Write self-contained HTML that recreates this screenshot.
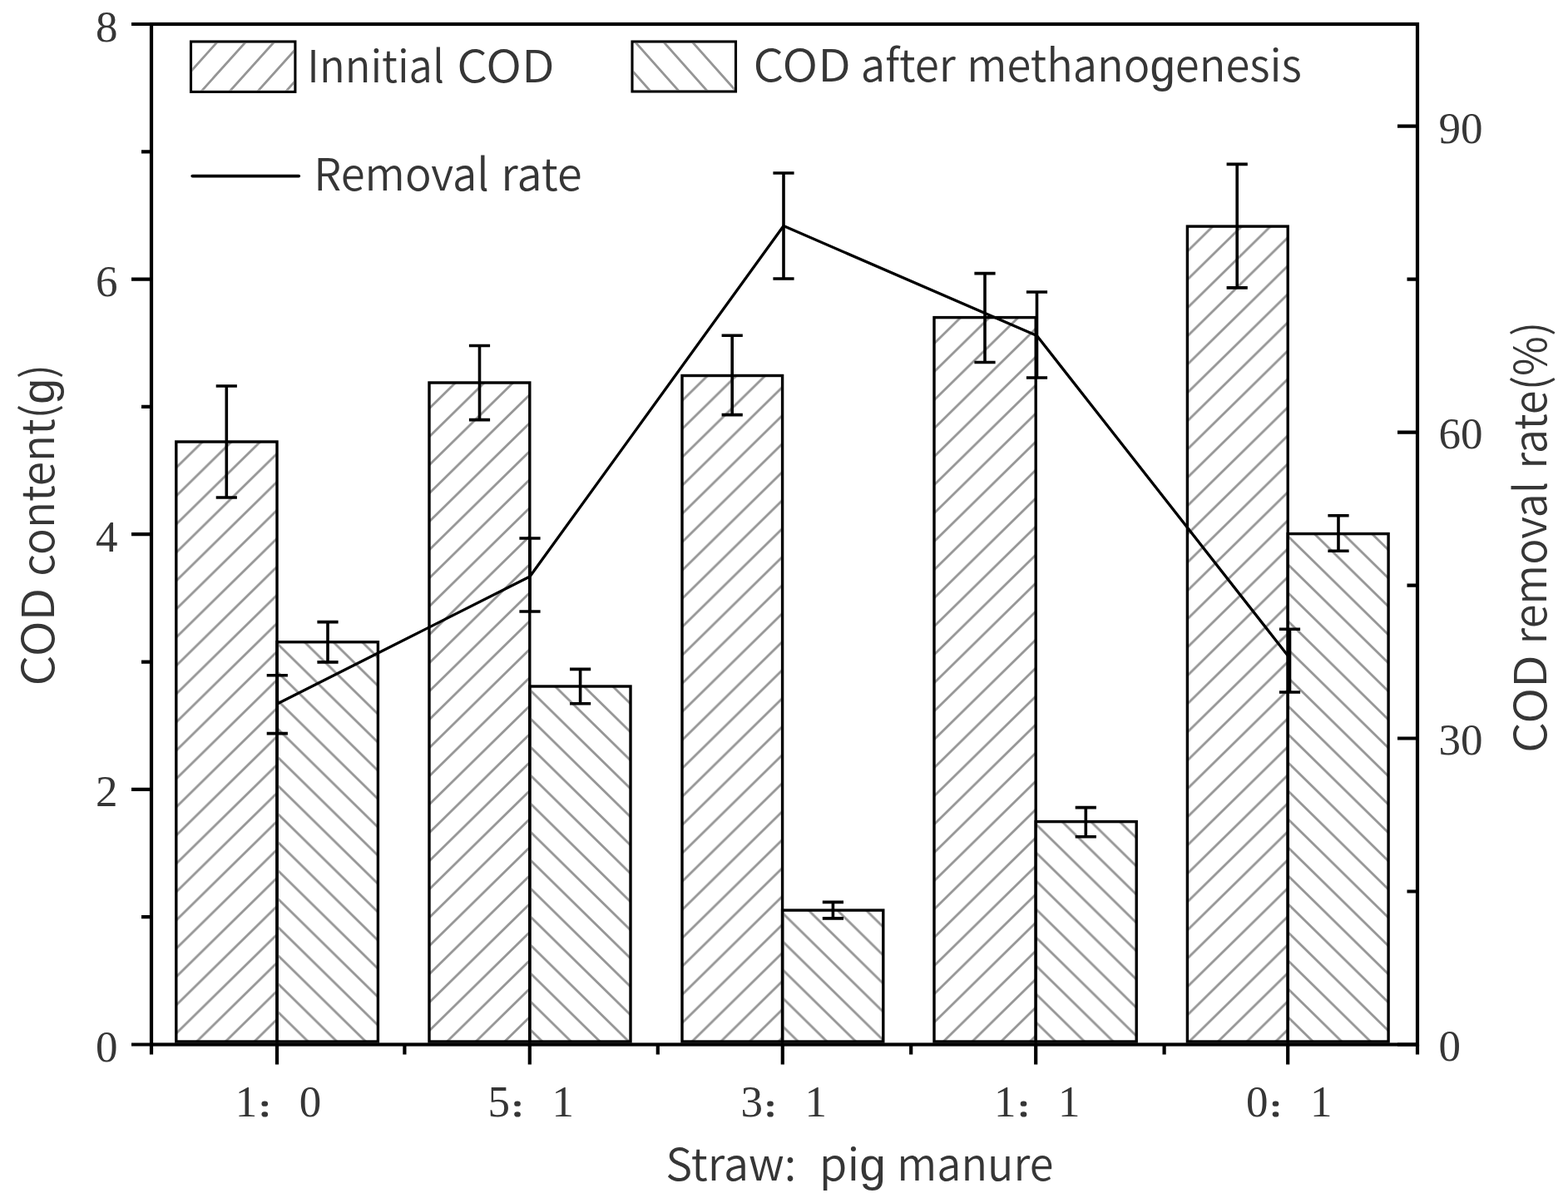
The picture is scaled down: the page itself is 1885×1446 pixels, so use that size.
<!DOCTYPE html>
<html><head><meta charset="utf-8"><title>COD content and removal rate</title><style>
html,body{margin:0;padding:0;background:#fff;}
svg{display:block;}
.sans{font-family:'Noto Sans CJK SC', 'Liberation Sans', sans-serif;fill:#363636;font-weight:350;}
.serif{font-family:'Liberation Serif', 'Noto Serif CJK SC', serif;fill:#363636;}
</style></head><body>
<svg width="1885" height="1446" viewBox="0 0 1885 1446">
<defs>
<pattern id="hi0" patternUnits="userSpaceOnUse" width="34.65" height="34.0" x="213.80" y="1138.20"><path d="M-17.325,17.0 L17.325,-17.0 M0,34.0 L34.65,0 M17.325,51.0 L51.974999999999994,17.0" stroke="#959595" stroke-width="2.8" fill="none"/></pattern>
<pattern id="ha0" patternUnits="userSpaceOnUse" width="34.65" height="34.0" x="335.00" y="1115.25"><path d="M-17.325,17.0 L17.325,51.0 M0,0 L34.65,34.0 M17.325,-17.0 L51.974999999999994,17.0" stroke="#959595" stroke-width="2.8" fill="none"/></pattern>
<pattern id="hi1" patternUnits="userSpaceOnUse" width="34.65" height="34.0" x="518.00" y="1135.00"><path d="M-17.325,17.0 L17.325,-17.0 M0,34.0 L34.65,0 M17.325,51.0 L51.974999999999994,17.0" stroke="#959595" stroke-width="2.8" fill="none"/></pattern>
<pattern id="ha1" patternUnits="userSpaceOnUse" width="34.65" height="34.0" x="638.80" y="1103.00"><path d="M-17.325,17.0 L17.325,51.0 M0,0 L34.65,34.0 M17.325,-17.0 L51.974999999999994,17.0" stroke="#959595" stroke-width="2.8" fill="none"/></pattern>
<pattern id="hi2" patternUnits="userSpaceOnUse" width="34.65" height="34.0" x="822.00" y="1125.65"><path d="M-17.325,17.0 L17.325,-17.0 M0,34.0 L34.65,0 M17.325,51.0 L51.974999999999994,17.0" stroke="#959595" stroke-width="2.8" fill="none"/></pattern>
<pattern id="ha2" patternUnits="userSpaceOnUse" width="34.65" height="34.0" x="942.60" y="1099.30"><path d="M-17.325,17.0 L17.325,51.0 M0,0 L34.65,34.0 M17.325,-17.0 L51.974999999999994,17.0" stroke="#959595" stroke-width="2.8" fill="none"/></pattern>
<pattern id="hi3" patternUnits="userSpaceOnUse" width="34.65" height="34.0" x="1125.00" y="1124.90"><path d="M-17.325,17.0 L17.325,-17.0 M0,34.0 L34.65,0 M17.325,51.0 L51.974999999999994,17.0" stroke="#959595" stroke-width="2.8" fill="none"/></pattern>
<pattern id="ha3" patternUnits="userSpaceOnUse" width="34.65" height="34.0" x="1247.20" y="1128.50"><path d="M-17.325,17.0 L17.325,51.0 M0,0 L34.65,34.0 M17.325,-17.0 L51.974999999999994,17.0" stroke="#959595" stroke-width="2.8" fill="none"/></pattern>
<pattern id="hi4" patternUnits="userSpaceOnUse" width="34.65" height="34.0" x="1429.40" y="946.20"><path d="M-17.325,17.0 L17.325,-17.0 M0,34.0 L34.65,0 M17.325,51.0 L51.974999999999994,17.0" stroke="#959595" stroke-width="2.8" fill="none"/></pattern>
<pattern id="ha4" patternUnits="userSpaceOnUse" width="34.65" height="34.0" x="1665.00" y="962.95"><path d="M-17.325,17.0 L17.325,51.0 M0,0 L34.65,34.0 M17.325,-17.0 L51.974999999999994,17.0" stroke="#959595" stroke-width="2.8" fill="none"/></pattern>
<clipPath id="lg1"><rect x="231.3" y="51.8" width="121.8" height="56.8"/></clipPath>
<clipPath id="lg2"><rect x="761.8" y="51.8" width="120.9" height="56.4"/></clipPath>
</defs>
<g>
<rect width="1885" height="1446" fill="#fff"/>
<rect x="211.8" y="531" width="121.2" height="721.0" fill="url(#hi0)" stroke="#000" stroke-width="3.4"/>
<rect x="516.0" y="460" width="120.8" height="792.0" fill="url(#hi1)" stroke="#000" stroke-width="3.4"/>
<rect x="820.0" y="451.5" width="120.6" height="800.5" fill="url(#hi2)" stroke="#000" stroke-width="3.4"/>
<rect x="1123.0" y="381.6" width="122.2" height="870.4" fill="url(#hi3)" stroke="#000" stroke-width="3.4"/>
<rect x="1427.4" y="272.1" width="120.8" height="979.9" fill="url(#hi4)" stroke="#000" stroke-width="3.4"/>
<rect x="333.0" y="771.7" width="121.4" height="480.3" fill="url(#ha0)" stroke="#000" stroke-width="3.4"/>
<rect x="636.8" y="825" width="121.2" height="427.0" fill="url(#ha1)" stroke="#000" stroke-width="3.4"/>
<rect x="940.6" y="1094.1" width="121.2" height="157.9" fill="url(#ha2)" stroke="#000" stroke-width="3.4"/>
<rect x="1245.2" y="987.6" width="121.0" height="264.4" fill="url(#ha3)" stroke="#000" stroke-width="3.4"/>
<rect x="1548.2" y="641.6" width="120.9" height="610.4" fill="url(#ha4)" stroke="#000" stroke-width="3.4"/>
<path d="M272.3,464 V598 M259.7,464 H284.9 M259.7,598 H284.9" stroke="#000" stroke-width="3.6" fill="none"/>
<path d="M576.5,415.5 V504.6 M563.9,415.5 H589.1 M563.9,504.6 H589.1" stroke="#000" stroke-width="3.6" fill="none"/>
<path d="M880.2,403.3 V498.6 M867.6,403.3 H892.8 M867.6,498.6 H892.8" stroke="#000" stroke-width="3.6" fill="none"/>
<path d="M1184.0,328.6 V435.5 M1171.4,328.6 H1196.6 M1171.4,435.5 H1196.6" stroke="#000" stroke-width="3.6" fill="none"/>
<path d="M1487.2,197.4 V345.9 M1474.6,197.4 H1499.8 M1474.6,345.9 H1499.8" stroke="#000" stroke-width="3.6" fill="none"/>
<path d="M394.0,747.6 V795.9 M381.4,747.6 H406.6 M381.4,795.9 H406.6" stroke="#000" stroke-width="3.6" fill="none"/>
<path d="M697.6,804.4 V845.7 M685.0,804.4 H710.2 M685.0,845.7 H710.2" stroke="#000" stroke-width="3.6" fill="none"/>
<path d="M1001.4,1084.4 V1103.9 M988.8,1084.4 H1014.0 M988.8,1103.9 H1014.0" stroke="#000" stroke-width="3.6" fill="none"/>
<path d="M1305.3,970.6 V1005.8 M1292.7,970.6 H1317.9 M1292.7,1005.8 H1317.9" stroke="#000" stroke-width="3.6" fill="none"/>
<path d="M1609.0,619.7 V662.3 M1596.4,619.7 H1621.6 M1596.4,662.3 H1621.6" stroke="#000" stroke-width="3.6" fill="none"/>
<path d="M333.3,846 L637.0,693 L942.0,271.5 L1246.5,403.5 L1550.5,791" stroke="#000" stroke-width="3.3" fill="none" stroke-linejoin="round"/>
<path d="M333.3,811.8 V881.6 M320.7,811.8 H345.9 M320.7,881.6 H345.9" stroke="#000" stroke-width="3.6" fill="none"/>
<path d="M637.0,647 V735 M624.4,647 H649.6 M624.4,735 H649.6" stroke="#000" stroke-width="3.6" fill="none"/>
<path d="M942.0,208 V335 M929.4,208 H954.6 M929.4,335 H954.6" stroke="#000" stroke-width="3.6" fill="none"/>
<path d="M1246.5,351 V454 M1233.9,351 H1259.1 M1233.9,454 H1259.1" stroke="#000" stroke-width="3.6" fill="none"/>
<path d="M1550.5,756.3 V832 M1537.9,756.3 H1563.1 M1537.9,832 H1563.1" stroke="#000" stroke-width="3.6" fill="none"/>
<rect x="182" y="29" width="1522" height="1226.5" fill="none" stroke="#000" stroke-width="4.2"/>
<path d="M158,1255.5 H182 M170,1102.2 H182 M158,948.9 H182 M170,795.6 H182 M158,642.2 H182 M170,488.9 H182 M158,335.6 H182 M170,182.3 H182 M158,29.0 H182 M1680,1255.5 H1704 M1691.5,1071.5 H1704 M1680,887.5 H1704 M1691.5,703.6 H1704 M1680,519.6 H1704 M1691.5,335.6 H1704 M1680,151.7 H1704 M333.0,1255.5 V1279.5 M636.8,1255.5 V1279.5 M940.8,1255.5 V1279.5 M1245.2,1255.5 V1279.5 M1548.2,1255.5 V1279.5 M182.0,1255.5 V1267.5 M486.4,1255.5 V1267.5 M790.8,1255.5 V1267.5 M1095.2,1255.5 V1267.5 M1399.6,1255.5 V1267.5 M1704.0,1255.5 V1267.5" stroke="#000" stroke-width="4.2" fill="none"/>
<text class="serif" x="141.5" y="1276.0" font-size="53" text-anchor="end">0</text>
<text class="serif" x="141.5" y="969.4" font-size="53" text-anchor="end">2</text>
<text class="serif" x="141.5" y="662.8" font-size="53" text-anchor="end">4</text>
<text class="serif" x="141.5" y="356.1" font-size="53" text-anchor="end">6</text>
<text class="serif" x="141.5" y="49.5" font-size="53" text-anchor="end">8</text>
<text class="serif" x="1729.5" y="1275.3" font-size="53">0</text>
<text class="serif" x="1729.5" y="907.3" font-size="53">30</text>
<text class="serif" x="1729.5" y="539.4" font-size="53">60</text>
<text class="serif" x="1729.5" y="171.5" font-size="53">90</text>
<text class="serif" x="296.0" y="1342" font-size="53" text-anchor="middle">1</text>
<text font-family="'Noto Sans CJK SC', sans-serif" font-weight="bold" font-size="53" fill="#363636" stroke="#363636" stroke-width="3.4" transform="translate(310.8,1341.1) scale(0.5676,0.478)">：</text>
<text class="serif" x="373.0" y="1342" font-size="53" text-anchor="middle">0</text>
<text class="serif" x="599.8" y="1342" font-size="53" text-anchor="middle">5</text>
<text font-family="'Noto Sans CJK SC', sans-serif" font-weight="bold" font-size="53" fill="#363636" stroke="#363636" stroke-width="3.4" transform="translate(614.6,1341.1) scale(0.5676,0.478)">：</text>
<text class="serif" x="676.8" y="1342" font-size="53" text-anchor="middle">1</text>
<text class="serif" x="903.8" y="1342" font-size="53" text-anchor="middle">3</text>
<text font-family="'Noto Sans CJK SC', sans-serif" font-weight="bold" font-size="53" fill="#363636" stroke="#363636" stroke-width="3.4" transform="translate(918.6,1341.1) scale(0.5676,0.478)">：</text>
<text class="serif" x="980.8" y="1342" font-size="53" text-anchor="middle">1</text>
<text class="serif" x="1208.2" y="1342" font-size="53" text-anchor="middle">1</text>
<text font-family="'Noto Sans CJK SC', sans-serif" font-weight="bold" font-size="53" fill="#363636" stroke="#363636" stroke-width="3.4" transform="translate(1223.0,1341.1) scale(0.5676,0.478)">：</text>
<text class="serif" x="1285.2" y="1342" font-size="53" text-anchor="middle">1</text>
<text class="serif" x="1511.2" y="1342" font-size="53" text-anchor="middle">0</text>
<text font-family="'Noto Sans CJK SC', sans-serif" font-weight="bold" font-size="53" fill="#363636" stroke="#363636" stroke-width="3.4" transform="translate(1526.0,1341.1) scale(0.5676,0.478)">：</text>
<text class="serif" x="1588.2" y="1342" font-size="53" text-anchor="middle">1</text>
<path clip-path="url(#lg1)" d="M189.7,130 L279.6,30 M223.8,130 L313.8,30 M257.9,130 L348.0,30 M291.6,130 L381.6,30 M325.6,130 L415.6,30" stroke="#959595" stroke-width="2.8" fill="none"/>
<path clip-path="url(#lg2)" d="M766.1,130 L677.1,30 M800.1,130 L711.1,30 M834.4,130 L745.4,30 M868.6,130 L779.6,30 M903.1,130 L814.1,30" stroke="#959595" stroke-width="2.8" fill="none"/>
<rect x="229.5" y="50" width="125.4" height="60.4" fill="none" stroke="#000" stroke-width="3.1"/>
<rect x="760" y="50" width="124.5" height="60" fill="none" stroke="#000" stroke-width="3.1"/>
<path d="M231.3,211.6 H359.2" stroke="#000" stroke-width="3.8" stroke-linecap="round"/>
<text class="sans" font-size="53.8" transform="translate(369.32,98.5) scale(0.9450,1)">Innitial</text>
<text class="sans" font-size="53.8" transform="translate(549.22,98.5) scale(1.0790,1)">COD</text>
<text class="sans" font-size="53.8" transform="translate(905.53,98.3) scale(1.0761,1)">COD</text>
<text class="sans" font-size="53.8" transform="translate(1034.83,98.3) scale(0.9825,1)">after</text>
<text class="sans" font-size="53.8" transform="translate(1162.28,98.3) scale(0.9757,1)">methano<tspan font-family="'Liberation Sans', sans-serif" font-size="55.95">g</tspan>enesis</text>
<text class="sans" font-size="53.8" transform="translate(377.34,229.0) scale(0.9770,1)">Removal</text>
<text class="sans" font-size="53.8" transform="translate(602.34,229.0) scale(1.0039,1)">rate</text>
<text class="sans" font-size="53.8" transform="translate(800.30,1419.0) scale(1.0043,1)">Straw:</text>
<text class="sans" font-size="53.8" transform="translate(984.77,1419.0) scale(1.0173,1)">pi<tspan font-family="'Liberation Sans', sans-serif" font-size="55.95">g</tspan></text>
<text class="sans" font-size="53.8" transform="translate(1078.30,1419.0) scale(0.9711,1)">manure</text>
<text class="sans" font-size="53.8" transform="translate(65.3,824.39) rotate(-90) scale(1.0810,1)">COD</text>
<text class="sans" font-size="53.8" transform="translate(65.3,692.65) rotate(-90) scale(0.9859,1)">content(<tspan font-family="'Liberation Sans', sans-serif" font-size="55.95">g</tspan>)</text>
<text class="sans" font-size="53.8" transform="translate(1859.0,904.89) rotate(-90) scale(1.0800,1)">COD</text>
<text class="sans" font-size="53.8" transform="translate(1859.0,774.38) rotate(-90) scale(0.9669,1)">removal</text>
<text class="sans" font-size="53.8" transform="translate(1859.0,563.83) rotate(-90) scale(0.9760,1)">rate(%)</text>
</g>
</svg>
</body></html>
